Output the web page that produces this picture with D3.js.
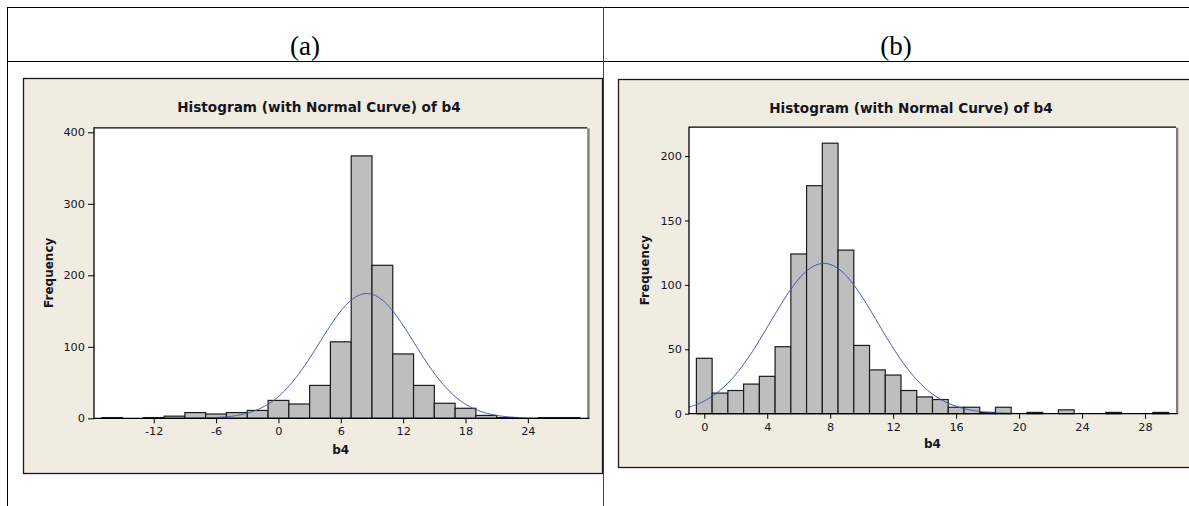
<!DOCTYPE html>
<html>
<head>
<meta charset="utf-8">
<script src="https://cdn.jsdelivr.net/npm/d3@7"></script>
<style>
  html, body { margin: 0; padding: 0; background: #fff; }
  svg { display: block; }
</style>
</head>
<body>
<svg id="chart" width="1189" height="506"></svg>
<script>
// ---------------- data ----------------
const panelLabels = ["(a)", "(b)"];
const chartTitle = "Histogram (with Normal Curve) of b4";
const xAxisTitle = "b4";
const yAxisTitle = "Frequency";

// panel (a): bins of width 2, centred on even values
const binCentersA = [-16, -14, -12, -10, -8, -6, -4, -2, 0, 2, 4, 6, 8, 10, 12, 14, 16, 18, 20, 22, 24, 26, 28];
const countsA     = [  1,   0,   1,   3,  8,  6,  8, 11, 25, 20, 46, 107, 367, 214, 90, 46, 21, 14, 4, 1, 0, 1, 1];
const binWidthA = 2;
const meanA = 8.5, sdA = 4.55;
const xTicksA = [-12, -6, 0, 6, 12, 18, 24];
const yTicksA = [0, 100, 200, 300, 400];

// panel (b): bins of width 1, centred on integers
const binCentersB = [0, 1, 2, 3, 4, 5, 6, 7, 8, 9, 10, 11, 12, 13, 14, 15, 16, 17, 18, 19, 20, 21, 22, 23, 24, 25, 26, 27, 28, 29];
const countsB     = [43, 16, 18, 23, 29, 52, 124, 177, 210, 127, 53, 34, 30, 18, 13, 11, 5, 5, 1, 5, 0, 1, 0, 3, 0, 0, 1, 0, 0, 1];
const binWidthB = 1;
const meanB = 7.6, sdB = 3.42;
const xTicksB = [0, 4, 8, 12, 16, 20, 24, 28];
const yTicksB = [0, 50, 100, 150, 200];

// ---------------- drawing ----------------
const svg = d3.select("#chart");
const SANS = "'DejaVu Sans', Verdana, sans-serif";
const TEXT = "#15151f";

// outer table
const tbl = svg.append("g").attr("shape-rendering", "crispEdges");
tbl.append("line").attr("x1", 7).attr("x2", 1189).attr("y1", 7.5).attr("y2", 7.5).attr("stroke", "#000");
tbl.append("line").attr("x1", 7).attr("x2", 1189).attr("y1", 61.5).attr("y2", 61.5).attr("stroke", "#000");
tbl.append("line").attr("x1", 7.5).attr("x2", 7.5).attr("y1", 7).attr("y2", 506).attr("stroke", "#000");
tbl.append("line").attr("x1", 603.5).attr("x2", 603.5).attr("y1", 7).attr("y2", 506).attr("stroke", "#444");

svg.append("text").attr("x", 305).attr("y", 55).attr("text-anchor", "middle")
  .attr("font-family", "'Liberation Serif', 'Times New Roman', serif").attr("font-size", 27)
  .attr("fill", "#000").text(panelLabels[0]);
svg.append("text").attr("x", 896).attr("y", 55).attr("text-anchor", "middle")
  .attr("font-family", "'Liberation Serif', 'Times New Roman', serif").attr("font-size", 27)
  .attr("fill", "#000").text(panelLabels[1]);

function drawPanel(cfg) {
  const g = svg.append("g");
  // beige frame
  g.append("rect").attr("x", cfg.box[0] + 0.5).attr("y", cfg.box[1] + 0.5)
    .attr("width", cfg.box[2] - cfg.box[0]).attr("height", cfg.box[3] - cfg.box[1])
    .attr("fill", "#f0ece1").attr("stroke", "#1a1a1a").attr("stroke-width", 1.3);

  const [px0, py0, px1, py1] = cfg.plot;
  const x = d3.scaleLinear().domain(cfg.xDomain).range([px0, px1]);
  const y = d3.scaleLinear().domain(cfg.yDomain).range([py1, py0]);

  // plot area
  g.append("rect").attr("x", px0).attr("y", py0).attr("width", px1 - px0).attr("height", py1 - py0)
    .attr("fill", "#fff");
  // shadow right edge
  g.append("rect").attr("x", px1).attr("y", py0 + 1).attr("width", 2.3).attr("height", py1 - py0 - 1)
    .attr("fill", "#7d7d7d");
  g.append("line").attr("x1", px0).attr("x2", px1).attr("y1", py0 + 0.5).attr("y2", py0 + 0.5)
    .attr("stroke", "#000").attr("stroke-width", 1.2);

  const clipId = "clip" + cfg.id;
  svg.append("clipPath").attr("id", clipId).append("rect")
    .attr("x", px0).attr("y", py0).attr("width", px1 - px0).attr("height", py1 - py0);

  // bars
  const bins = cfg.centers.map((c, i) => ({ c, n: cfg.counts[i] })).filter(d => d.n > 0);
  g.append("g").selectAll("rect").data(bins).join("rect")
    .attr("x", d => x(d.c - cfg.binWidth / 2))
    .attr("width", d => x(d.c + cfg.binWidth / 2) - x(d.c - cfg.binWidth / 2))
    .attr("y", d => y(d.n))
    .attr("height", d => y(0) - y(d.n))
    .attr("fill", "#bebebe").attr("stroke", "#1c1c1c").attr("stroke-width", 1.2);

  // normal curve
  const N = d3.sum(cfg.counts);
  const pdf = v => N * cfg.binWidth * Math.exp(-0.5 * ((v - cfg.mean) / cfg.sd) ** 2) / (cfg.sd * Math.sqrt(2 * Math.PI));
  const lo = cfg.mean - 3.75 * cfg.sd, hi = cfg.mean + 3.75 * cfg.sd;
  const pts = d3.range(0, 401).map(i => lo + (hi - lo) * i / 400);
  g.append("path").datum(pts)
    .attr("clip-path", `url(#${clipId})`)
    .attr("d", d3.line().x(v => x(v)).y(v => y(pdf(v))))
    .attr("fill", "none").attr("stroke", "#3b55aa").attr("stroke-width", 1);

  // axes
  const fmt = d => String(d);
  const xa = g.append("g").attr("transform", `translate(0,${py1})`)
    .call(d3.axisBottom(x).tickValues(cfg.xTicks).tickFormat(fmt).tickSizeOuter(0).tickSize(cfg.xTickLen).tickPadding(4));
  const ya = g.append("g").attr("transform", `translate(${px0},0)`)
    .call(d3.axisLeft(y).tickValues(cfg.yTicks).tickFormat(fmt).tickSizeOuter(0).tickSize(cfg.yTickLen).tickPadding(3));
  [xa, ya].forEach(a => {
    a.select(".domain").remove();
    a.selectAll("line").attr("stroke", "#000");
    a.selectAll("text").attr("font-family", SANS).attr("font-size", 11.3).attr("fill", TEXT);
  });
  g.append("line").attr("x1", px0 - 0.5).attr("x2", px1 + 2).attr("y1", py1).attr("y2", py1)
    .attr("stroke", "#000").attr("stroke-width", 1.3);
  g.append("line").attr("x1", px0).attr("x2", px0).attr("y1", py0).attr("y2", py1)
    .attr("stroke", "#000").attr("stroke-width", 1.3);

  // titles
  g.append("text").attr("x", cfg.titleX).attr("y", cfg.titleY).attr("text-anchor", "middle")
    .attr("font-family", SANS).attr("font-weight", "bold").attr("font-size", 13.6).attr("fill", TEXT)
    .text(chartTitle);
  g.append("text").attr("x", (px0 + px1) / 2).attr("y", cfg.xLabelY).attr("text-anchor", "middle")
    .attr("font-family", SANS).attr("font-weight", "bold").attr("font-size", 12).attr("fill", TEXT)
    .text(xAxisTitle);
  g.append("text").attr("transform", `translate(${cfg.yLabelX},${(py0 + py1) / 2}) rotate(-90)`)
    .attr("text-anchor", "middle")
    .attr("font-family", SANS).attr("font-weight", "bold").attr("font-size", 12).attr("fill", TEXT)
    .text(yAxisTitle);
}

drawPanel({
  id: "A", box: [23, 78, 602, 473], plot: [94, 127.3, 587.3, 418.3],
  xDomain: [-17.75, 29.72], yDomain: [0, 407],
  centers: binCentersA, counts: countsA, binWidth: binWidthA, mean: meanA, sd: sdA,
  xTicks: xTicksA, yTicks: yTicksA, xTickLen: 5, yTickLen: 6,
  titleX: 319, titleY: 112, xLabelY: 454, yLabelX: 53
});
drawPanel({
  id: "B", box: [618, 79, 1200, 467], plot: [689, 126.7, 1176, 413.7],
  xDomain: [-0.97, 29.97], yDomain: [0, 222.8],
  centers: binCentersB, counts: countsB, binWidth: binWidthB, mean: meanB, sd: sdB,
  xTicks: xTicksB, yTicks: yTicksB, xTickLen: 5, yTickLen: 4,
  titleX: 911, titleY: 112.5, xLabelY: 448, yLabelX: 649
});
</script>
</body>
</html>
